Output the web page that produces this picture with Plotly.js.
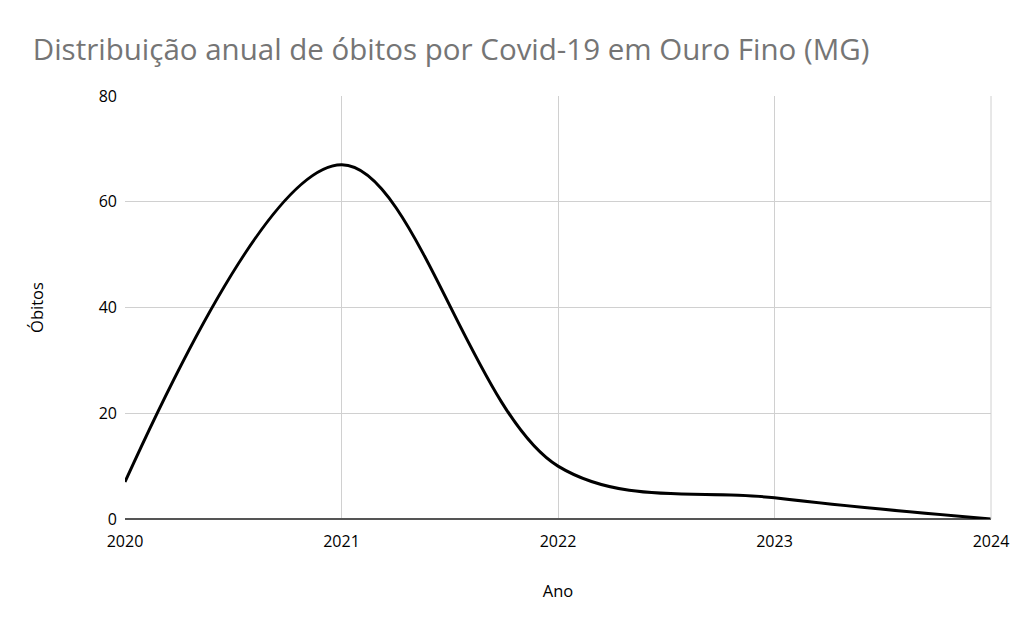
<!DOCTYPE html>
<html>
<head>
<meta charset="utf-8">
<script src="https://cdn.plot.ly/plotly-3.0.1.min.js"></script>
<style>
  html, body { margin: 0; padding: 0; background: #fff; }
  #chart { width: 1024px; height: 633px; }
</style>
</head>
<body>
<div id="chart"></div>
<script>
// anual deaths
var anos = [2020, 2021, 2022, 2023, 2024];
var obitos = [7, 67, 10, 4, 0];
var yTicks = [0, 20, 40, 60, 80];

var trace = {
    type: "scatter",
    mode: "lines",
    x: anos,
    y: obitos,
    line: {color: "#000000", width: 3, shape: "spline", smoothing: 1},
    hoverinfo: "x+y",
    showlegend: false
};

var layout = {
    width: 1024,
    height: 633,
    margin: {l: 125, r: 33, t: 96, b: 114},
    paper_bgcolor: "#ffffff",
    plot_bgcolor: "#ffffff",
    font: {family: "Open Sans, sans-serif", color: "#000000", size: 16},
    title: {
        text: "Distribuição anual de óbitos por Covid-19 em Ouro Fino (MG)",
        font: {family: "Open Sans, sans-serif", size: 29.5, color: "#757575"},
        x: 0.032, xanchor: "left",
        y: 0.922, yanchor: "middle"
    },
    xaxis: {
        range: [2020, 2024],
        tickvals: anos,
        ticktext: anos.map(String),
        showgrid: true,
        gridcolor: "#d0d0d0",
        gridwidth: 1,
        zeroline: false,
        showline: false,
        ticks: "",
        ticklabelstandoff: 11,
        tickfont: {size: 16, color: "#000000"},
        title: {text: "Ano", font: {size: 16.5, color: "#000000"}, standoff: 34}
    },
    yaxis: {
        range: [0, 80],
        tickvals: yTicks,
        showgrid: true,
        gridcolor: "#d0d0d0",
        gridwidth: 1,
        zeroline: true,
        zerolinecolor: "#555555",
        zerolinewidth: 1.5,
        showline: false,
        ticks: "",
        ticklabelstandoff: 7,
        tickfont: {size: 16, color: "#000000"},
        title: {text: "Óbitos", font: {size: 16.5, color: "#000000"}, standoff: 50}
    },
    shapes: [
        {type: "line", xref: "paper", yref: "paper", x0: 1, x1: 1, y0: 0, y1: 1,
         line: {color: "#d0d0d0", width: 1}}
    ]
};

Plotly.newPlot("chart", [trace], layout, {displayModeBar: false, staticPlot: true});
</script>
</body>
</html>
